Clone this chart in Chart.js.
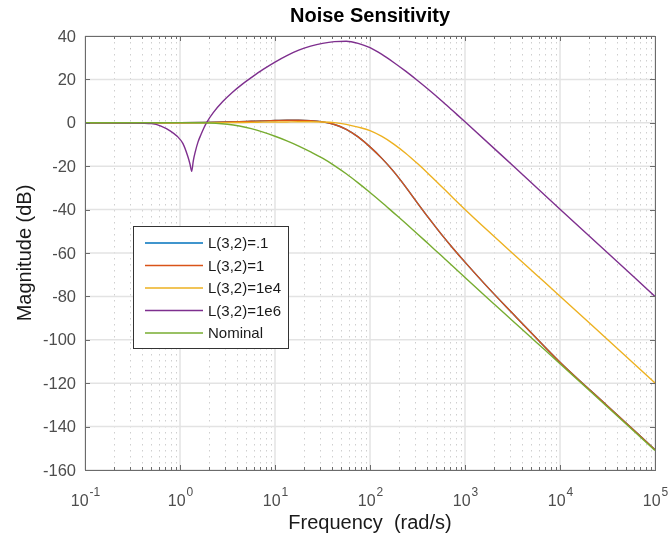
<!DOCTYPE html>
<html>
<head>
<meta charset="utf-8">
<script src="https://cdn.jsdelivr.net/npm/chart.js@4.4.0/dist/chart.umd.min.js"></script>
<style>
    html, body { margin: 0; padding: 0; background: #ffffff; }
</style>
</head>
<body>
<canvas id="myChart" width="670" height="537"></canvas>
<script>
// frequency points as powers of ten (rad/s)
var logW = [-1, -0.5, 0, 0.25, 0.5, 0.625, 0.75, 0.875, 1, 1.125, 1.25, 1.375, 1.5, 1.625, 1.75, 1.875,
    2, 2.125, 2.25, 2.375, 2.5, 2.625, 2.75, 2.875, 3, 3.25, 3.5, 3.75, 4, 4.5, 5];
// purple curve needs more points around the notch
var logWPurple = [-1, -0.5, -0.3, -0.2, -0.1, -0.03, 0.03, 0.08, 0.105, 0.123, 0.14, 0.16, 0.19, 0.22, 0.25, 0.28,
    0.35, 0.45, 0.55, 0.65, 0.75, 0.875, 1, 1.125, 1.25, 1.375, 1.5, 1.625, 1.75, 1.875,
    2, 2.125, 2.25, 2.375, 2.5, 2.625, 2.75, 2.875, 3, 3.5, 4, 4.5, 5];

// magnitudes in dB
var magL01 = [0, 0, 0.05, 0.15, 0.35, 0.5, 0.7, 0.9, 1.05, 1.2, 1.2, 1.0, 0.4, -0.8, -3, -6.5,
    -11.1, -16.4, -22.5, -29.5, -37, -44.3, -51.3, -57.9, -64.2, -76.3, -87.8, -99.2, -110.3, -130.5, -150.6];
var magL1 = [0, 0, 0.05, 0.15, 0.35, 0.5, 0.7, 0.9, 1.05, 1.2, 1.2, 1.0, 0.4, -0.8, -3, -6.5,
    -11.1, -16.4, -22.5, -29.5, -37, -44.3, -51.3, -57.9, -64.2, -76.3, -87.8, -99.2, -110.3, -130.5, -150.6];
var magL1e4 = [0, 0, 0, 0.05, 0.1, 0.15, 0.2, 0.3, 0.35, 0.4, 0.45, 0.45, 0.4, 0.1, -0.7, -2,
    -3.6, -6.3, -9.8, -14, -18.8, -23.9, -29.2, -34.6, -39.9, -50.1, -60.1, -70, -79.9, -99.9, -119.9];
var magL1e6 = [0, -0.1, -0.4, -1.5, -3.8, -6.2, -9.5, -15.2, -19, -22.4, -17.5, -13.5, -8.8, -5.5, -2.5, 0.1,
    4.7, 9.8, 14, 17.6, 20.8, 24.6, 28, 31, 33.5, 35.3, 36.6, 37.4, 37.6, 36.6,
    34.6, 31.5, 27.8, 23.8, 19.5, 15, 10.3, 5.4, 0.5, -19.6, -39.8, -59.9, -80];
var magNominal = [0, 0, 0.1, 0, -0.7, -1.5, -2.7, -4.3, -6.2, -8.3, -10.7, -13.4, -16.3, -19.7, -23.5, -27.7,
    -32.1, -36.7, -41.5, -46.3, -51.2, -56.2, -61.2, -66.2, -71.3, -81.3, -91.2, -101.1, -111, -131, -151];

var seriesNames = ["L(3,2)=.1", "L(3,2)=1", "L(3,2)=1e4", "L(3,2)=1e6", "Nominal"];
var seriesColors = ["#0072BD", "#D95319", "#EDB120", "#7E2F8E", "#77AC30"];

var xDecades = [0.1, 1, 10, 100, 1000, 10000, 100000];
var xExponents = ["-1", "0", "1", "2", "3", "4", "5"];
var yTicks = [-160, -140, -120, -100, -80, -60, -40, -20, 0, 20, 40];

var fontName = "'Liberation Sans', Arial, sans-serif";

function toPoints(exps, mags) {
    var pts = [];
    for (var i = 0; i < exps.length; i++) {
        pts.push({ x: Math.pow(10, exps[i]), y: mags[i] });
    }
    return pts;
}

var allMags = [magL01, magL1, magL1e4, magL1e6, magNominal];
var datasets = [];
for (var s = 0; s < allMags.length; s++) {
    datasets.push({
        label: seriesNames[s],
        data: toPoints(s == 3 ? logWPurple : logW, allMags[s]),
        borderColor: seriesColors[s],
        borderWidth: 1.4,
        pointRadius: 0,
        fill: false,
        cubicInterpolationMode: "monotone",
        order: 5 - s // first series at the back, like matlab
    });
}

var matlabAxes = {
    id: "matlabAxes",
    beforeDatasetsDraw: function (chart) {
        var ctx = chart.ctx, a = chart.chartArea;
        var xs = chart.scales.x, ys = chart.scales.y;
        ctx.save();
        // minor dotted grid
        ctx.strokeStyle = "#cfcfcf";
        ctx.lineWidth = 1;
        ctx.setLineDash([1.5, 4.5]);
        for (var d = 0; d < xDecades.length - 1; d++) {
            for (var k = 2; k <= 9; k++) {
                var px = Math.round(xs.getPixelForValue(xDecades[d] * k)) + 0.5;
                ctx.beginPath();
                ctx.moveTo(px, a.top);
                ctx.lineTo(px, a.bottom);
                ctx.stroke();
            }
        }
        ctx.setLineDash([]);
        // major grid
        ctx.strokeStyle = "#e3e3e3";
        ctx.lineWidth = 1.5;
        for (var i = 0; i < xDecades.length; i++) {
            var gx = xs.getPixelForValue(xDecades[i]);
            ctx.beginPath();
            ctx.moveTo(gx, a.top);
            ctx.lineTo(gx, a.bottom);
            ctx.stroke();
        }
        for (var j = 0; j < yTicks.length; j++) {
            var gy = ys.getPixelForValue(yTicks[j]);
            ctx.beginPath();
            ctx.moveTo(a.left, gy);
            ctx.lineTo(a.right, gy);
            ctx.stroke();
        }
        ctx.restore();
    },
    afterDatasetsDraw: function (chart) {
        var ctx = chart.ctx, a = chart.chartArea;
        var xs = chart.scales.x, ys = chart.scales.y;
        ctx.save();
        // box
        ctx.strokeStyle = "#6b6b6b";
        ctx.lineWidth = 1;
        ctx.strokeRect(Math.round(a.left) + 0.5, Math.round(a.top) + 0.5,
            Math.round(a.right - a.left), Math.round(a.bottom - a.top));
        // tick marks inside the box
        ctx.beginPath();
        for (var j = 0; j < yTicks.length; j++) {
            var ty = Math.round(ys.getPixelForValue(yTicks[j])) + 0.5;
            ctx.moveTo(a.left, ty); ctx.lineTo(a.left + 5, ty);
            ctx.moveTo(a.right, ty); ctx.lineTo(a.right - 5, ty);
        }
        for (var d = 0; d < xDecades.length; d++) {
            var tx = Math.round(xs.getPixelForValue(xDecades[d])) + 0.5;
            ctx.moveTo(tx, a.bottom); ctx.lineTo(tx, a.bottom - 5);
            ctx.moveTo(tx, a.top); ctx.lineTo(tx, a.top + 5);
            if (d < xDecades.length - 1) {
                for (var k = 2; k <= 9; k++) {
                    var mx = Math.round(xs.getPixelForValue(xDecades[d] * k)) + 0.5;
                    ctx.moveTo(mx, a.bottom); ctx.lineTo(mx, a.bottom - 3);
                    ctx.moveTo(mx, a.top); ctx.lineTo(mx, a.top + 3);
                }
            }
        }
        ctx.stroke();

        // legend box
        var lx = 133.5, ly = 226.5, lw = 155, lh = 122;
        ctx.fillStyle = "#ffffff";
        ctx.fillRect(lx, ly, lw, lh);
        ctx.strokeStyle = "#333333";
        ctx.strokeRect(lx, ly, lw, lh);
        ctx.font = "15px " + fontName;
        ctx.textBaseline = "middle";
        ctx.textAlign = "left";
        for (var s = 0; s < seriesNames.length; s++) {
            var rowY = 243 + s * 22.5;
            ctx.strokeStyle = seriesColors[s];
            ctx.lineWidth = 1.4;
            ctx.beginPath();
            ctx.moveTo(145, rowY);
            ctx.lineTo(203, rowY);
            ctx.stroke();
            ctx.fillStyle = "#1a1a1a";
            ctx.fillText(seriesNames[s], 208, rowY + 1);
        }

        // y tick labels
        ctx.fillStyle = "#4d4d4d";
        ctx.font = "16.5px " + fontName;
        ctx.textAlign = "right";
        for (var j2 = 0; j2 < yTicks.length; j2++) {
            ctx.fillText(String(yTicks[j2]), a.left - 9, ys.getPixelForValue(yTicks[j2]) + 1);
        }
        // x tick labels as 10 with a raised exponent
        ctx.textBaseline = "alphabetic";
        ctx.textAlign = "left";
        for (var d2 = 0; d2 < xDecades.length; d2++) {
            var cx = xs.getPixelForValue(xDecades[d2]);
            ctx.font = "16px " + fontName;
            var wBase = ctx.measureText("10").width;
            ctx.font = "12px " + fontName;
            var wExp = ctx.measureText(xExponents[d2]).width;
            var x0 = cx - (wBase + wExp) / 2;
            ctx.font = "16px " + fontName;
            ctx.fillText("10", x0, 506);
            ctx.font = "12px " + fontName;
            ctx.fillText(xExponents[d2], x0 + wBase + 1, 496);
        }

        // titles
        ctx.fillStyle = "#000000";
        ctx.textAlign = "center";
        ctx.textBaseline = "middle";
        ctx.font = "bold 20px " + fontName;
        ctx.fillText("Noise Sensitivity", (a.left + a.right) / 2, 16);
        ctx.fillStyle = "#1a1a1a";
        ctx.font = "20px " + fontName;
        ctx.fillText("Frequency  (rad/s)", (a.left + a.right) / 2, 523);
        ctx.translate(25, (a.top + a.bottom) / 2);
        ctx.rotate(-Math.PI / 2);
        ctx.fillText("Magnitude (dB)", 0, 0);
        ctx.restore();
    }
};

var ctx = document.getElementById("myChart").getContext("2d");
var myChart = new Chart(ctx, {
    type: "line",
    data: { datasets: datasets },
    options: {
        responsive: false,
        animation: false,
        layout: { padding: { left: 85, right: 15, top: 36, bottom: 67 } },
        plugins: {
            legend: { display: false },
            tooltip: { enabled: false }
        },
        scales: {
            x: { type: "logarithmic", min: 0.1, max: 100000, display: false },
            y: { type: "linear", min: -160, max: 40, display: false }
        }
    },
    plugins: [matlabAxes]
});
</script>
</body>
</html>
